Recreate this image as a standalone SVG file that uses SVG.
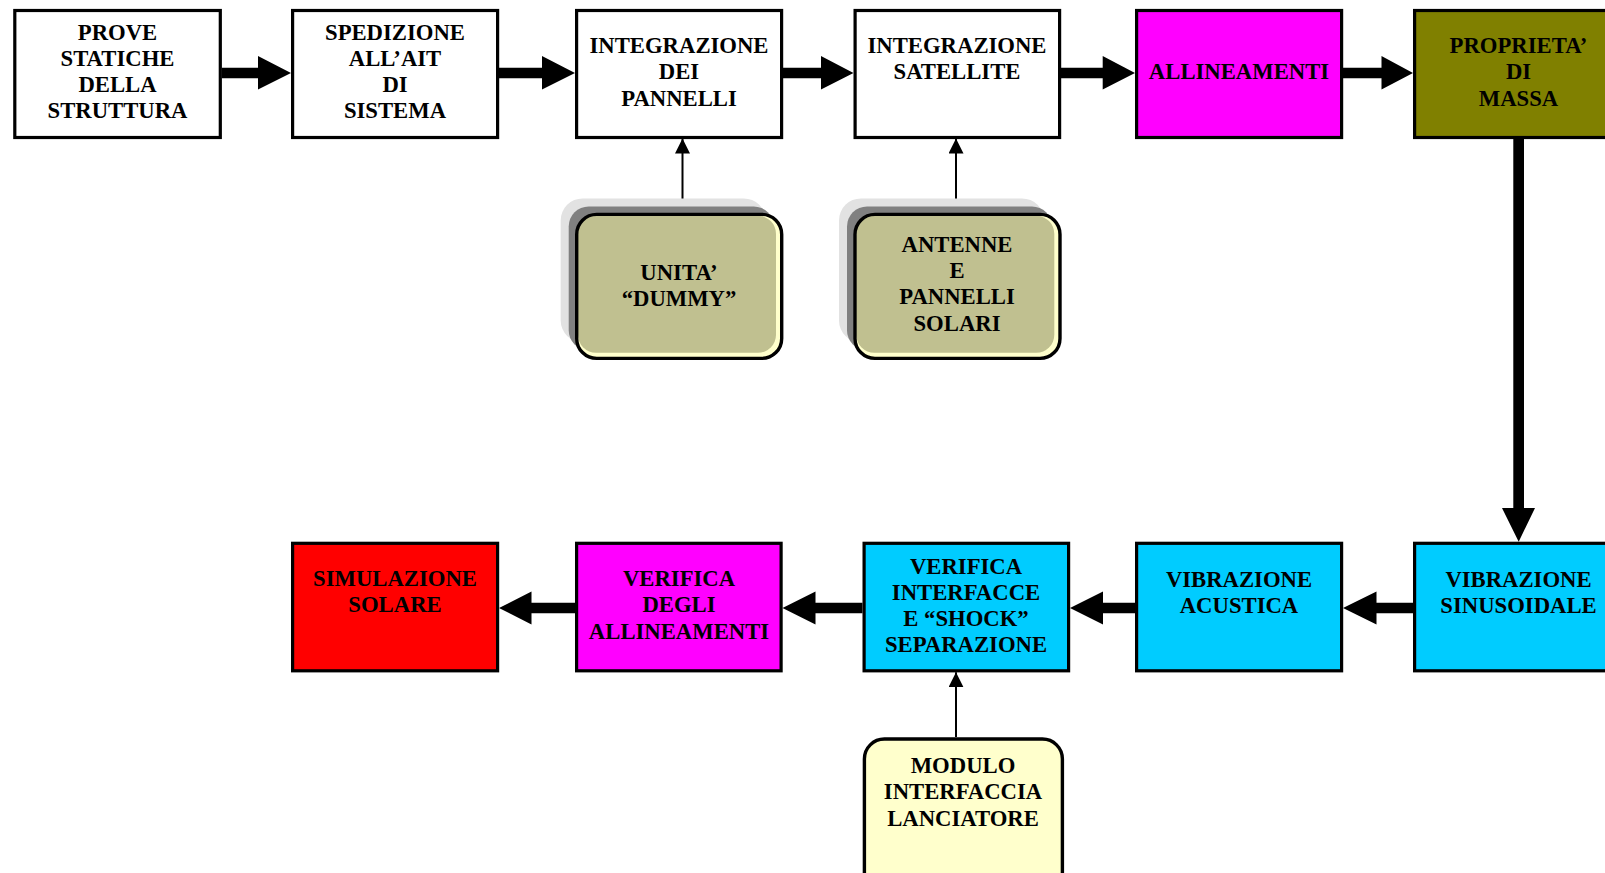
<svg xmlns="http://www.w3.org/2000/svg" width="1605" height="873" viewBox="0 0 1605 873">
<style>
.box{stroke:#000;stroke-width:3.2}
.rbox{stroke:#000;stroke-width:3.4}
.t{font-family:"Liberation Serif","Times New Roman",serif;font-weight:bold;font-size:22.7px;text-anchor:middle;fill:#000}
.thick{fill:#000}
.thin{stroke:#000;stroke-width:2;fill:none}
.sh1{fill:#E2E2E2}
.sh2{fill:#808080}
</style>
<defs>
<marker id="ah" markerWidth="15" markerHeight="15" refX="15" refY="7.5" orient="auto" markerUnits="userSpaceOnUse">
<path d="M0,0 L15,7.5 L0,15 Z" fill="#000"/>
</marker>
<filter id="soft" x="-10%" y="-10%" width="120%" height="120%"><feGaussianBlur stdDeviation="0.6"/></filter>
</defs>
<rect width="1605" height="873" fill="#fff"/>

<g id="connectors">
<polygon class="thick" points="221.7,67.7 258,67.7 258,56 291,73 258,89.5 258,78.3 221.7,78.3"/>
<polygon class="thick" points="499,67.7 542,67.7 542,56 575,73 542,89.5 542,78.3 499,78.3"/>
<polygon class="thick" points="783,67.7 821,67.7 821,56 853.5,73 821,89.5 821,78.3 783,78.3"/>
<polygon class="thick" points="1060.5,67.7 1102.7,67.7 1102.7,56 1135,73 1102.7,89.5 1102.7,78.3 1060.5,78.3"/>
<polygon class="thick" points="1343,67.7 1381.5,67.7 1381.5,56 1413,73 1381.5,89.5 1381.5,78.3 1343,78.3"/>
<polygon class="thick" points="1513.3,139 1524,139 1524,508 1535,508 1518.7,541.7 1502,508 1513.3,508"/>
<polygon class="thick" points="1413,602.7 1376.5,602.7 1376.5,591.5 1343,608 1376.5,624.5 1376.5,613.3 1413,613.3"/>
<polygon class="thick" points="1135,602.7 1103,602.7 1103,591.5 1070,608 1103,624.5 1103,613.3 1135,613.3"/>
<polygon class="thick" points="862.5,602.7 815.5,602.7 815.5,591.5 782.5,608 815.5,624.5 815.5,613.3 862.5,613.3"/>
<polygon class="thick" points="575,602.7 531.5,602.7 531.5,591.5 499,608 531.5,624.5 531.5,613.3 575,613.3"/>
<line class="thin" x1="682.5" y1="213" x2="682.5" y2="138.5" marker-end="url(#ah)"/>
<line class="thin" x1="956" y1="213" x2="956" y2="138.5" marker-end="url(#ah)"/>
<line class="thin" x1="956" y1="737" x2="956" y2="672.3" marker-end="url(#ah)"/>
</g>

<g id="n-prove">
<rect class="box" x="14.8" y="10.5" width="205.5" height="127" fill="#fff"/>
<text class="t"><tspan x="117.5" y="39.5">PROVE</tspan><tspan x="117.5" y="65.8">STATICHE</tspan><tspan x="117.5" y="92">DELLA</tspan><tspan x="117.5" y="118.3">STRUTTURA</tspan></text>
</g>
<g id="n-spedizione">
<rect class="box" x="292.6" y="10.5" width="205" height="127" fill="#fff"/>
<text class="t"><tspan x="395" y="39.5">SPEDIZIONE</tspan><tspan x="395" y="65.8">ALL’AIT</tspan><tspan x="395" y="92">DI</tspan><tspan x="395" y="118.3">SISTEMA</tspan></text>
</g>
<g id="n-int-pannelli">
<rect class="box" x="576.6" y="10.5" width="205" height="127" fill="#fff"/>
<text class="t"><tspan x="679" y="53">INTEGRAZIONE</tspan><tspan x="679" y="79.3">DEI</tspan><tspan x="679" y="105.7">PANNELLI</tspan></text>
</g>
<g id="n-int-satellite">
<rect class="box" x="855.1" y="10.5" width="204.5" height="127" fill="#fff"/>
<text class="t"><tspan x="957" y="53">INTEGRAZIONE</tspan><tspan x="957" y="79.3">SATELLITE</tspan></text>
</g>
<g id="n-allineamenti">
<rect class="box" x="1136.6" y="10.5" width="205" height="127" fill="#FF00FF"/>
<text class="t" x="1239" y="79.3">ALLINEAMENTI</text>
</g>
<g id="n-proprieta">
<rect class="box" x="1414.6" y="10.5" width="205" height="127" fill="#808000"/>
<text class="t"><tspan x="1518.5" y="53">PROPRIETA’</tspan><tspan x="1518.5" y="79.3">DI</tspan><tspan x="1518.5" y="105.7">MASSA</tspan></text>
</g>

<g id="n-unita">
<rect class="sh1" x="560.7" y="198.4" width="205" height="144" rx="22" filter="url(#soft)"/>
<rect class="sh2" x="568.7" y="206.4" width="205" height="144" rx="20"/>
<rect x="576.7" y="214.4" width="205" height="144" rx="20" fill="#FFFFCC"/>
<rect x="578" y="215.8" width="198" height="137" rx="18" fill="#C0C090"/>
<rect class="rbox" x="576.7" y="214.4" width="205" height="144" rx="20" fill="none"/>
<text class="t"><tspan x="679" y="279.5">UNITA’</tspan><tspan x="679" y="305.8">“DUMMY”</tspan></text>
</g>
<g id="n-antenne">
<rect class="sh1" x="839" y="198.4" width="205" height="144" rx="22" filter="url(#soft)"/>
<rect class="sh2" x="847" y="206.4" width="205" height="144" rx="20"/>
<rect x="855" y="214.4" width="205" height="144" rx="20" fill="#FFFFCC"/>
<rect x="856.3" y="215.8" width="198" height="137" rx="18" fill="#C0C090"/>
<rect class="rbox" x="855" y="214.4" width="205" height="144" rx="20" fill="none"/>
<text class="t"><tspan x="957" y="251.7">ANTENNE</tspan><tspan x="957" y="278">E</tspan><tspan x="957" y="304.3">PANNELLI</tspan><tspan x="957" y="330.6">SOLARI</tspan></text>
</g>

<g id="n-simulazione">
<rect class="box" x="292.6" y="543.3" width="205" height="127.5" fill="#FF0000"/>
<text class="t"><tspan x="395" y="585.7">SIMULAZIONE</tspan><tspan x="395" y="612.3">SOLARE</tspan></text>
</g>
<g id="n-verifica-all">
<rect class="box" x="576.6" y="543.3" width="204.5" height="127.5" fill="#FF00FF"/>
<text class="t"><tspan x="679" y="585.7">VERIFICA</tspan><tspan x="679" y="612.3">DEGLI</tspan><tspan x="679" y="639">ALLINEAMENTI</tspan></text>
</g>
<g id="n-verifica-int">
<rect class="box" x="864.1" y="543.3" width="204.5" height="127.5" fill="#00CCFF"/>
<text class="t"><tspan x="966" y="574">VERIFICA</tspan><tspan x="966" y="600">INTERFACCE</tspan><tspan x="966" y="626">E “SHOCK”</tspan><tspan x="966" y="651.7">SEPARAZIONE</tspan></text>
</g>
<g id="n-acustica">
<rect class="box" x="1136.6" y="543.3" width="205" height="127.5" fill="#00CCFF"/>
<text class="t"><tspan x="1239" y="586.5">VIBRAZIONE</tspan><tspan x="1239" y="613">ACUSTICA</tspan></text>
</g>
<g id="n-sinusoidale">
<rect class="box" x="1414.6" y="543.3" width="205" height="127.5" fill="#00CCFF"/>
<text class="t"><tspan x="1518.5" y="586.5">VIBRAZIONE</tspan><tspan x="1518.5" y="613">SINUSOIDALE</tspan></text>
</g>

<g id="n-modulo">
<rect class="rbox" x="864.4" y="739" width="198" height="160" rx="20" fill="#FFFFCC"/>
<text class="t"><tspan x="963" y="773">MODULO</tspan><tspan x="963" y="799.4">INTERFACCIA</tspan><tspan x="963" y="825.8">LANCIATORE</tspan></text>
</g>
</svg>
